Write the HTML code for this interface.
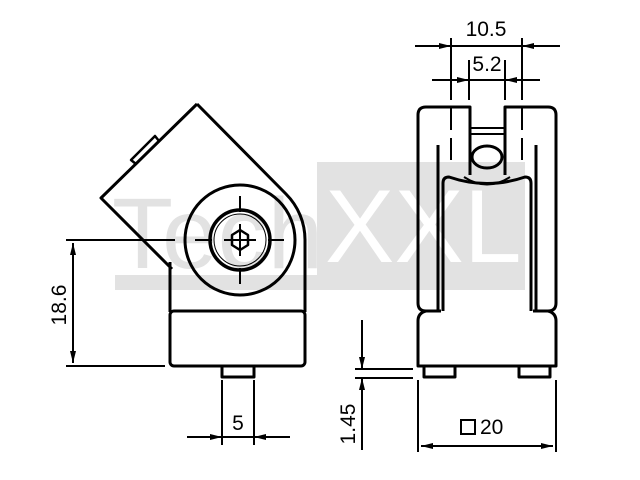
<!DOCTYPE html>
<html><head><meta charset="utf-8"><style>html,body{margin:0;padding:0;background:#fff}svg{display:block}</style></head><body>
<svg width="640" height="480" viewBox="0 0 640 480" xmlns="http://www.w3.org/2000/svg">
<defs>
<marker id="a" viewBox="0 0 12 6" refX="12" refY="3" markerWidth="12" markerHeight="6" orient="auto-start-reverse" markerUnits="userSpaceOnUse"><path d="M0,0 L12,3 L0,6 z" fill="#000"/></marker>
</defs>
<rect x="317" y="162" width="208" height="128" fill="#e2e2e2"/>
<rect x="115" y="275" width="202" height="15" fill="#e2e2e2"/>
<text x="112" y="268" font-family="Liberation Sans, sans-serif" font-size="100" fill="#e2e2e2">Tech</text>
<text x="325" y="262" font-family="Liberation Sans, sans-serif" font-size="104" fill="#fff">XXL</text>

<g fill="none" stroke="#000" stroke-width="3" stroke-linejoin="round">
<path d="M197,104 L286,194 A65,65 0 0 1 305,240 V312"/>
<path d="M197,104 L101,198 L172,269"/>
<path d="M170,262 V312"/>
<rect x="170" y="311" width="135" height="55" rx="4" fill="#fff"/>
<path d="M222,366 L222,377 L254,377 L254,366"/>
<path d="M131,160 L155,136 L159,141 L136,164 z" stroke-width="2.5"/>
<circle cx="240" cy="240" r="55"/>
<circle cx="240" cy="240" r="30" stroke-width="3.5"/>
<circle cx="240" cy="240" r="26" stroke-width="1"/>
<path d="M240,230 l8,5 v10 l-8,5 l-8,-5 v-10 z" stroke-width="2.5"/>
</g>
<g stroke="#000" stroke-width="2" fill="none">
<path d="M240,196 V212 M240,268 V284 M212,240 H196 M268,240 H284 M240,224 V256 M224,240 H256"/>
<path d="M66,240 H175 M195,240 H206 M66,366 H165"/>
<path d="M73,243 V363" marker-start="url(#a)" marker-end="url(#a)"/>
<path d="M222,380 V445 M254,380 V445"/>
<path d="M187,437 H290"/>
<path d="M200,437 H222" marker-end="url(#a)"/>
<path d="M276,437 H254" marker-end="url(#a)"/>
</g>

<g fill="none" stroke="#000" stroke-width="3" stroke-linejoin="round">
<path d="M470,175 V107 H426 Q418,107 418,115 V303 Q418,311 426,311 H441"/>
<path d="M505,175 V107 H548 Q556,107 556,115 V303 Q556,311 548,311 H533"/>
<path d="M438,145 V311 M536,145 V311"/>
<path d="M443,311 V183 Q443,177 449,177 Q487,190 525,177 Q531,177 531,183 V311"/>
<path d="M464,177 Q487,192 510,177" stroke-width="2"/>
<path d="M426,311 Q418,313 418,321 V366 H556 V321 Q556,313 548,311"/>
<path d="M424,366 V377 H455 V366 M519,366 V377 H550 V366"/>
<ellipse cx="487" cy="157" rx="15" ry="11"/>
<path d="M470,128 H505 M470,134 H505" stroke-width="2"/>
</g>
<g stroke="#000" stroke-width="2" fill="none">
<path d="M451,38 V100 M451,108 V130 M451,138 V160 M522,38 V100 M522,108 V130 M522,138 V160"/>
<path d="M469,60 V100 M505,60 V100"/>
<path d="M415,46 H560"/>
<path d="M430,46 H451" marker-end="url(#a)"/>
<path d="M545,46 H522" marker-end="url(#a)"/>
<path d="M432,80 H540"/>
<path d="M450,80 H469" marker-end="url(#a)"/>
<path d="M525,80 H505" marker-end="url(#a)"/>
<path d="M355,369 H413 M355,378 H413"/>
<path d="M362,320 V369" marker-end="url(#a)"/>
<path d="M362,450 V378" marker-end="url(#a)"/>
<path d="M418,380 V452 M556,380 V452"/>
<path d="M421,446 H553" marker-start="url(#a)" marker-end="url(#a)"/>
<rect x="461" y="420" width="14" height="14"/>
</g>
<g font-family="Liberation Sans, DejaVu Sans, sans-serif" font-size="21" fill="#000">
<text x="486" y="36" text-anchor="middle">10.5</text>
<text x="487" y="71" text-anchor="middle">5.2</text>
<text x="238" y="430" text-anchor="middle">5</text>
<text x="480" y="434">20</text>
<text transform="translate(66,305) rotate(-90)" text-anchor="middle">18.6</text>
<text transform="translate(355,424) rotate(-90)" text-anchor="middle">1.45</text>
</g>
</svg>
</body></html>
